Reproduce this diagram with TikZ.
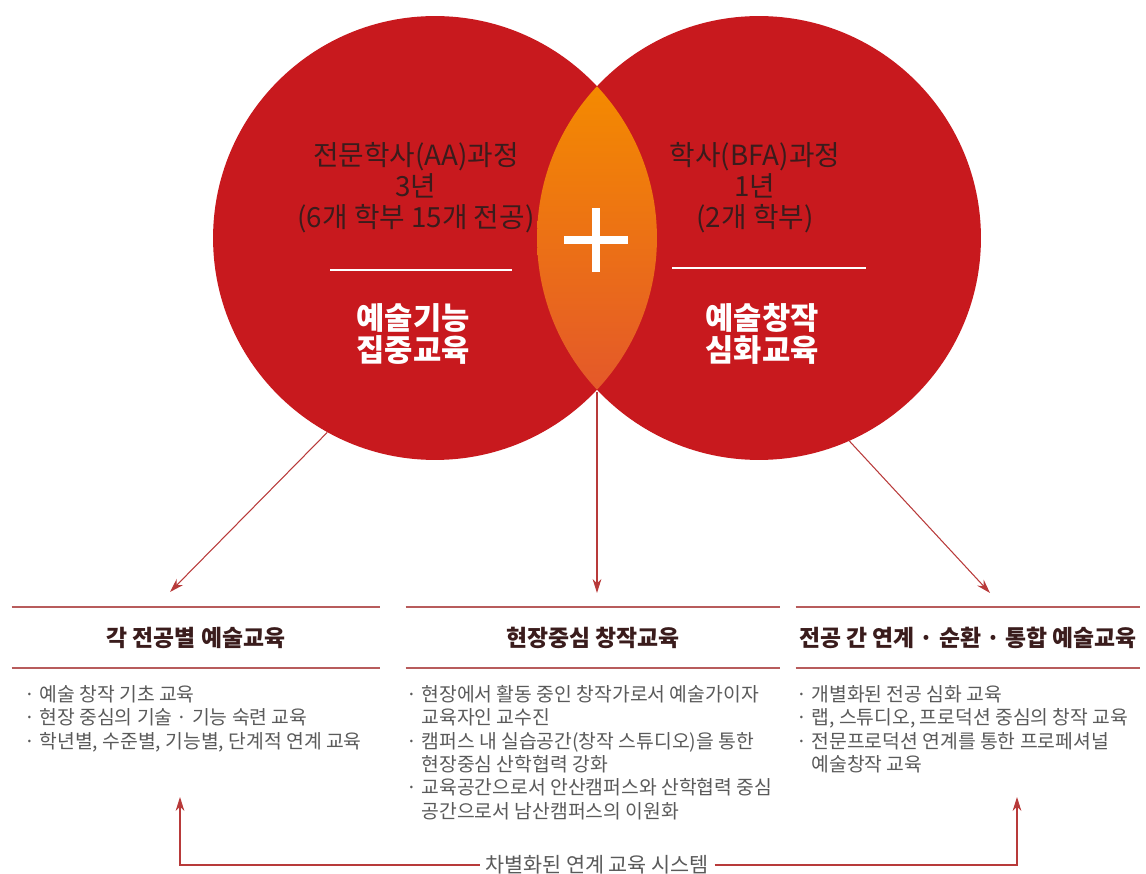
\documentclass[tikz,border=0pt]{standalone}
\usepackage{fontspec}
\setmainfont{Noto Sans CJK KR}
\usetikzlibrary{arrows.meta}

\definecolor{circred}{HTML}{C8191E}
\definecolor{lenstop}{HTML}{F48A00}
\definecolor{lensbot}{HTML}{E4582A}
\definecolor{arrowred}{HTML}{B83A3A}
\definecolor{rulered}{HTML}{B85C5C}
\definecolor{bodygray}{HTML}{5A5A5A}
\definecolor{headtxt}{HTML}{3A1C1C}

\tikzset{
  circ/.style={circle, fill=circred, minimum size=8.88cm, inner sep=0pt},
  head/.style={text=headtxt, align=center, font=\fontsize{15.8}{17.6}\selectfont},
  sub/.style={text=white, align=center, font=\bfseries\fontsize{17.5}{18.5}\selectfont},
  link/.style={draw=arrowred, line width=0.6pt, -{Stealth[length=8pt,width=5pt]}},
  rule/.style={draw=rulered, line width=1.2pt},
  divider/.style={draw=white, line width=1.5pt},
  plusbar/.style={draw=white, line width=4.5pt},
  title/.style={minimum height=1.22cm, inner sep=0pt, text=headtxt, font=\bfseries\fontsize{13}{14}\selectfont},
  items/.style={anchor=north west, align=left, inner sep=0pt, text=bodygray, font=\fontsize{11}{13.3}\selectfont},
}

\begin{document}
\begin{tikzpicture}[x=0.02cm, y=-0.02cm]
  \useasboundingbox (0,0) rectangle (1146,874);
  % Circles and lens:
  \node[circ] (lc) at (435,238) {};
  \node[circ] (rc) at (759,238) {};
  \begin{scope}
    \clip (lc.center) circle[radius=4.44cm];
    \clip (rc.center) circle[radius=4.44cm];
    \shade[top color=lenstop, middle color=lenstop!88!lensbot, bottom color=lensbot] (537,86) rectangle (657,392);
  \end{scope}
  \node (plus) at (596,240) {};
  \draw[plusbar] ([xshift=-0.64cm]plus.center) -- ([xshift=0.64cm]plus.center);
  \draw[plusbar] ([yshift=-0.64cm]plus.center) -- ([yshift=0.64cm]plus.center);

  % Texts in the circles:
  \node[head] (aa) at (416,188) {전문학사(AA)과정\\3년\\(6개 학부 15개 전공)};
  \draw[divider] (330,270) -- (512,270);
  \node[sub] (aasub) at (413,334) {예술기능\\집중교육};
  \node[head] (bfa) at (755,188) {학사(BFA)과정\\1년\\(2개 학부)};
  \draw[divider] (672,268) -- (866,268);
  \node[sub] (bfasub) at (762,334) {예술창작\\심화교육};

  % Column titles:
  \node[title, minimum width=7.36cm] (t1) at (196,637.5) {각 전공별 예술교육};
  \node[title, minimum width=7.48cm] (t2) at (593,637.5) {현장중심 창작교육};
  \node[title, minimum width=6.88cm] (t3) at (968,637.5) {전공 간 연계 · 순환 · 통합 예술교육};
  \foreach \t in {t1,t2,t3} {
    \draw[rule] (\t.north west) -- (\t.north east);
    \draw[rule] (\t.south west) -- (\t.south east);
  }

  % Items:
  \node[items] (i1) at (24,685) {· 예술 창작 기초 교육\\· 현장 중심의 기술 · 기능 숙련 교육\\· 학년별, 수준별, 기능별, 단계적 연계 교육};
  \node[items] (i2) at (406,685) {· 현장에서 활동 중인 창작가로서 예술가이자\\\phantom{· }교육자인 교수진\\· 캠퍼스 내 실습공간(창작 스튜디오)을 통한\\\phantom{· }현장중심 산학협력 강화\\· 교육공간으로서 안산캠퍼스와 산학협력 중심\\\phantom{· }공간으로서 남산캠퍼스의 이원화};
  \node[items] (i3) at (796,685) {· 개별화된 전공 심화 교육\\· 랩, 스튜디오, 프로덕션 중심의 창작 교육\\· 전문프로덕션 연계를 통한 프로페셔널\\\phantom{· }예술창작 교육};

  % Arrows:
  \coordinate (lensbot) at (597,392);
  \coordinate (a1) at (170,592);
  \coordinate (a2) at (597,593);
  \coordinate (a3) at (990,593);
  \draw[link] (lc.241) -- (a1);
  \draw[link] (lensbot) -- (a2);
  \draw[link] (rc.294) -- (a3);

  % Bottom loop:
  \node[fill=white, inner sep=3pt, text=bodygray, font=\fontsize{11.8}{13}\selectfont] (sys) at (597,865) {차별화된 연계 교육 시스템};
  \coordinate (up1) at (180,797);
  \coordinate (up2) at (1017,797);
  \draw[link] (sys.west) -| (up1);
  \draw[link] (sys.east) -| (up2);
\end{tikzpicture}
\end{document}
